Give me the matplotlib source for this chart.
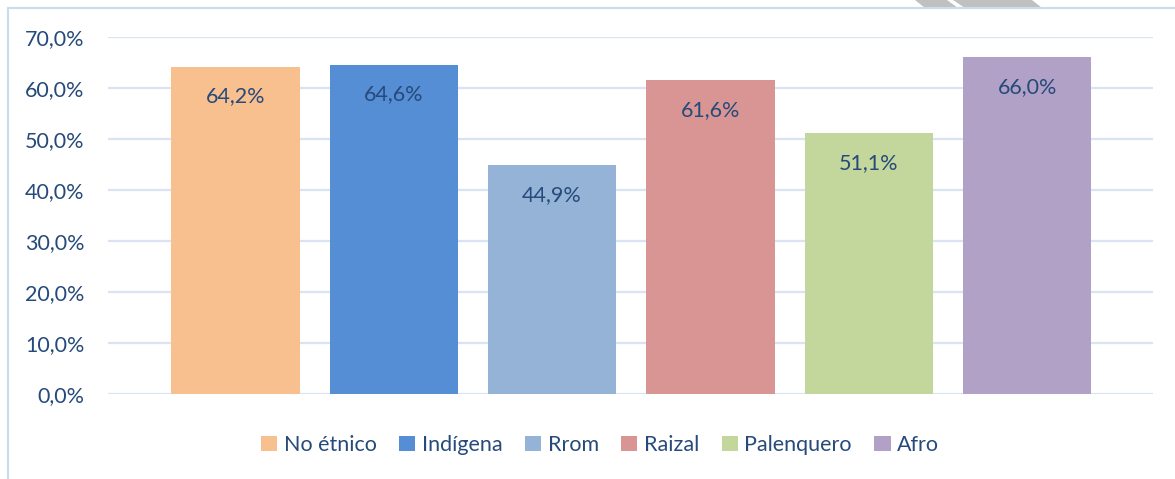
import matplotlib
matplotlib.use('Agg')
import matplotlib.pyplot as plt
from matplotlib.patches import Polygon, Patch
from matplotlib.lines import Line2D

W, H = 1175, 479
plt.rcParams['font.family'] = ['Lato', 'DejaVu Sans']

categories = ['No étnico', 'Indígena', 'Rrom', 'Raizal', 'Palenquero', 'Afro']
values = [64.2, 64.6, 44.9, 61.6, 51.1, 66.0]
colors = ['#F9C08F', '#558ED5', '#95B3D7', '#D99594', '#C3D69B', '#B2A1C7']
yticks = [0, 10, 20, 30, 40, 50, 60, 70]

TXT = '#264A7A'
GRID = '#D9E3F2'
FS = 15.5


def fx(px):
    return px / W


def fy(py):
    return 1 - py / H


fig = plt.figure(figsize=(W / 100, H / 100), dpi=100)
ax = fig.add_axes([fx(108), fy(394), fx(1153) - fx(108), fy(37) - fy(394)])

x = list(range(len(categories)))
ax.bar(x, values, width=0.81, color=colors, zorder=2)
for xi, v in zip(x, values):
    ax.annotate(f'{v:.1f}%'.replace('.', ','), (xi, v), xytext=(0, -21.5),
                textcoords='offset points', ha='center', va='center',
                fontsize=FS, color=TXT, zorder=3)

ax.set_xlim(-0.805, 5.795)
ax.set_ylim(0, 70)
ax.set_yticks(yticks)
ax.set_yticklabels([f'{t:.1f}%'.replace('.', ',') for t in yticks])
ax.tick_params(axis='y', length=0, pad=17, labelsize=FS, labelcolor=TXT)
ax.set_xticks([])
ax.yaxis.grid(True, color=GRID, linewidth=1.6, zorder=0)
ax.set_axisbelow(True)
for s in ax.spines.values():
    s.set_visible(False)

handles = [Patch(facecolor=c) for c in colors]
fig.legend(handles, categories, loc='center', bbox_to_anchor=(fx(600), fy(445)),
           ncol=6, frameon=False, fontsize=FS, labelcolor=TXT,
           handlelength=0.75, handleheight=0.75, handletextpad=0.3,
           columnspacing=1.05)

# chart frame (left and top edges visible)
fig.add_artist(Line2D([fx(8), fx(8)], [fy(8), 0], color='#CCDCF0', lw=1.5,
                      transform=fig.transFigure))
fig.add_artist(Line2D([fx(8), 1], [fy(8), fy(8)], color='#CCDCF0', lw=1.5,
                      transform=fig.transFigure))

# grey watermark stripes at the top edge
for pts in ([(915, 0), (947, 0), (958, 8), (925, 8)],
            [(953, 0), (1032, 0), (1042, 8), (965, 8)]):
    fig.add_artist(Polygon([(fx(a), fy(b)) for a, b in pts], closed=True,
                           facecolor='#C0C0C0', edgecolor='none',
                           transform=fig.transFigure, zorder=0))

fig.savefig('out.png', dpi=100)
